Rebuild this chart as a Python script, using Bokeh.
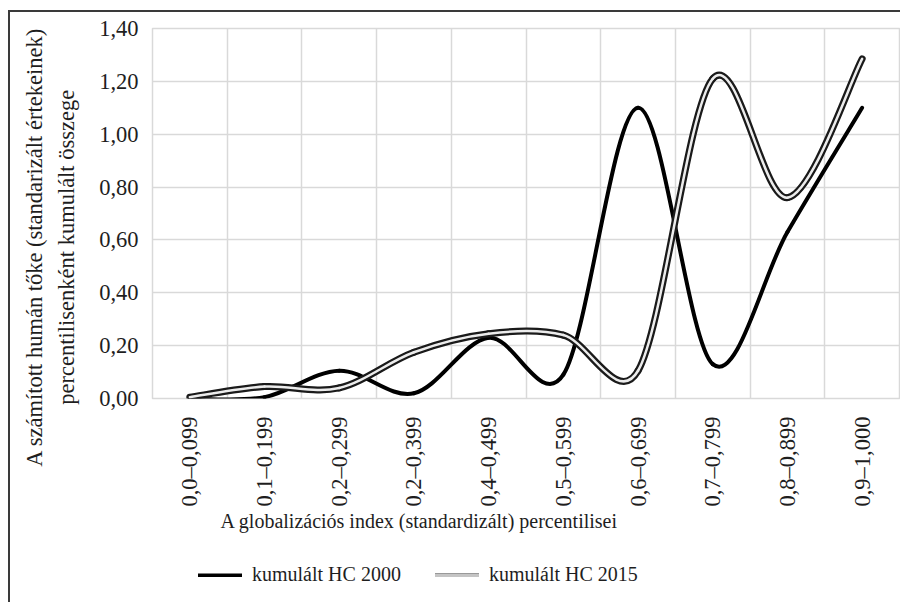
import numpy as np
from bokeh.plotting import figure
from bokeh.layouts import column
from bokeh.models import ColumnDataSource, FixedTicker, Legend, LegendItem, Title
from bokeh.embed import file_html
from bokeh.resources import INLINE

# ---------------- data ----------------
categories = ["0,0–0,099", "0,1–0,199", "0,2–0,299", "0,2–0,399", "0,4–0,499",
              "0,5–0,599", "0,6–0,699", "0,7–0,799", "0,8–0,899", "0,9–1,000"]
hc2000 = [0.00, 0.005, 0.105, 0.02, 0.23, 0.09, 1.10, 0.13, 0.63, 1.10]
hc2015 = [0.005, 0.045, 0.04, 0.175, 0.245, 0.24, 0.105, 1.21, 0.76, 1.285]
y_ticks = [0.0, 0.2, 0.4, 0.6, 0.8, 1.0, 1.2, 1.4]
y_tick_labels = ["0,00", "0,20", "0,40", "0,60", "0,80", "1,00", "1,20", "1,40"]
label_2000 = "kumulált HC 2000"
label_2015 = "kumulált HC 2015"
y_title_1 = "A számított humán tőke (standarizált értekeinek)"
y_title_2 = "percentilisenként kumulált összege"
x_title = "A globalizációs index (standardizált) percentilisei"

FONT = "Liberation Serif"
TXT = "#1e1e1e"
GRID = "#d9d9d9"
PX_X = 74.7    # approx. pixels per category (used only for the smoothing shape)
PX_Y = 264.3   # approx. pixels per unit


def smooth_source(vals):
    """Bezier segments of a spreadsheet-like 'smoothed line' through the data points."""
    y = np.asarray(vals, dtype=float)
    x = np.arange(len(y), dtype=float)
    n = len(y)
    xp = np.concatenate([[x[0]], x, [x[-1]]])
    yp = np.concatenate([[y[0]], y, [y[-1]]])
    cols = {k: [] for k in ("x0", "y0", "x1", "y1", "cx0", "cy0", "cx1", "cy1")}

    def d(a, b):
        return np.hypot((xp[a] - xp[b]) * PX_X, (yp[a] - yp[b]) * PX_Y)

    for i in range(n - 1):
        a0, a1, a2, a3 = i, i + 1, i + 2, i + 3   # padded indices of P0..P3
        f1 = f2 = 1.0 / 6.0
        d12, d02, d13 = d(a1, a2), d(a0, a2), d(a1, a3)
        if d02 > 0 and d02 / 6.0 >= d12 / 2.0:
            f1 = d12 / 2.0 / d02
        if d13 > 0 and d13 / 6.0 >= d12 / 2.0:
            f2 = d12 / 2.0 / d13
        cols["x0"].append(xp[a1]); cols["y0"].append(yp[a1])
        cols["x1"].append(xp[a2]); cols["y1"].append(yp[a2])
        cols["cx0"].append(xp[a1] + (xp[a2] - xp[a0]) * f1)
        cols["cy0"].append(yp[a1] + (yp[a2] - yp[a0]) * f1)
        cols["cx1"].append(xp[a2] - (xp[a3] - xp[a1]) * f2)
        cols["cy1"].append(yp[a2] - (yp[a3] - yp[a1]) * f2)
    return ColumnDataSource(cols)


src2000 = smooth_source(hc2000)
src2015 = smooth_source(hc2015)
bz = dict(x0="x0", y0="y0", x1="x1", y1="y1", cx0="cx0", cy0="cy0", cx1="cx1", cy1="cy1")
st2000 = dict(line_color="#000000", line_width=4, line_cap="round")
st2015o = dict(line_color="#1a1a1a", line_width=7, line_cap="round")
st2015i = dict(line_color="#ececec", line_width=2.5, line_cap="round")

# ---------- main chart ----------
p = figure(width=900, height=550, output_backend="svg", toolbar_location=None,
           x_range=(-0.5, len(categories) - 0.5), y_range=(0, 1.4),
           min_border_left=152, min_border_right=1, min_border_top=28, min_border_bottom=152)
p.background_fill_color = "white"
p.border_fill_alpha = 0
p.outline_line_color = GRID
p.outline_line_width = 1.5

p.xgrid.ticker = FixedTicker(ticks=[k - 0.5 for k in range(len(categories) + 1)])
p.ygrid.ticker = FixedTicker(ticks=y_ticks)
p.xgrid.grid_line_color = GRID
p.ygrid.grid_line_color = GRID
p.xgrid.grid_line_width = 1.5
p.ygrid.grid_line_width = 1.5

p.xaxis.ticker = FixedTicker(ticks=list(range(len(categories))))
p.xaxis.major_label_overrides = {k: c for k, c in enumerate(categories)}
p.xaxis.major_label_orientation = np.pi / 2
p.yaxis.ticker = FixedTicker(ticks=y_ticks)
p.yaxis.major_label_overrides = {t: l for t, l in zip(y_ticks, y_tick_labels)}
for ax in (p.xaxis[0], p.yaxis[0]):
    ax.axis_line_color = None
    ax.major_tick_line_color = None
    ax.minor_tick_line_color = None
    ax.major_tick_out = 0
    ax.major_tick_in = 0
    ax.major_label_text_font = FONT
    ax.major_label_text_font_size = "22.5px"
    ax.major_label_text_color = TXT
p.yaxis.major_label_standoff = 14
p.xaxis.major_label_standoff = 18

# y title: two centred lines; trailing no-break spaces move the block below the frame centre
pad = "\u00a0" * 12
p.yaxis.axis_label = y_title_1 + pad + "\n" + y_title_2 + pad
p.yaxis.axis_label_standoff = 17
p.yaxis.axis_label_text_font = FONT
p.yaxis.axis_label_text_font_size = "22.5px"
p.yaxis.axis_label_text_font_style = "normal"
p.yaxis.axis_label_text_color = TXT
p.yaxis.axis_label_text_line_height = 1.27

p.add_layout(Title(text=x_title, align="left", offset=68, standoff=0, vertical_align="top",
                   text_font=FONT, text_font_size="20px", text_font_style="normal",
                   text_color=TXT), "below")

# series (2015 drawn over 2000)
p.bezier(**bz, source=src2000, **st2000)
p.bezier(**bz, source=src2015, **st2015o)
p.bezier(**bz, source=src2015, **st2015i)

# ---------- legend strip (own figure, series renderers hidden, only legend shown) ----------
lf = figure(width=900, height=52, output_backend="svg", toolbar_location=None,
            x_range=(-0.5, len(categories) - 0.5), y_range=(0, 1.4),
            x_axis_location=None, y_axis_location=None, min_border=0)
lf.grid.visible = False
lf.outline_line_color = None
lf.background_fill_alpha = 0
lf.border_fill_alpha = 0
l2000 = lf.bezier(**bz, source=src2000, visible=False, **st2000)
l2015o = lf.bezier(**bz, source=src2015, visible=False,
                   line_color="#1a1a1a", line_width=9, line_cap="round")
l2015i = lf.bezier(**bz, source=src2015, visible=False,
                   line_color="#c4c4c4", line_width=4.5, line_cap="round")
legend = Legend(items=[LegendItem(label=label_2000, renderers=[l2000]),
                       LegendItem(label=label_2015, renderers=[l2015o, l2015i])],
                location=(46, 16), orientation="horizontal",
                glyph_width=44, glyph_height=4, label_height=4, label_standoff=10,
                spacing=34, padding=0, margin=0, inactive_fill_alpha=0,
                border_line_color=None, background_fill_alpha=0,
                label_text_font=FONT, label_text_font_size="20px", label_text_color=TXT)
lf.add_layout(legend, "center")

layout = column(p, lf)
# the chart's outer frame lines (left and top)
layout.styles = {"background": ("linear-gradient(#3a3a3a, #3a3a3a) 8px 10px / 2px 100% no-repeat, "
                                "linear-gradient(#3a3a3a, #3a3a3a) 8px 10px / 100% 2px no-repeat")}

open("out.html", "w").write(file_html(layout, INLINE))
